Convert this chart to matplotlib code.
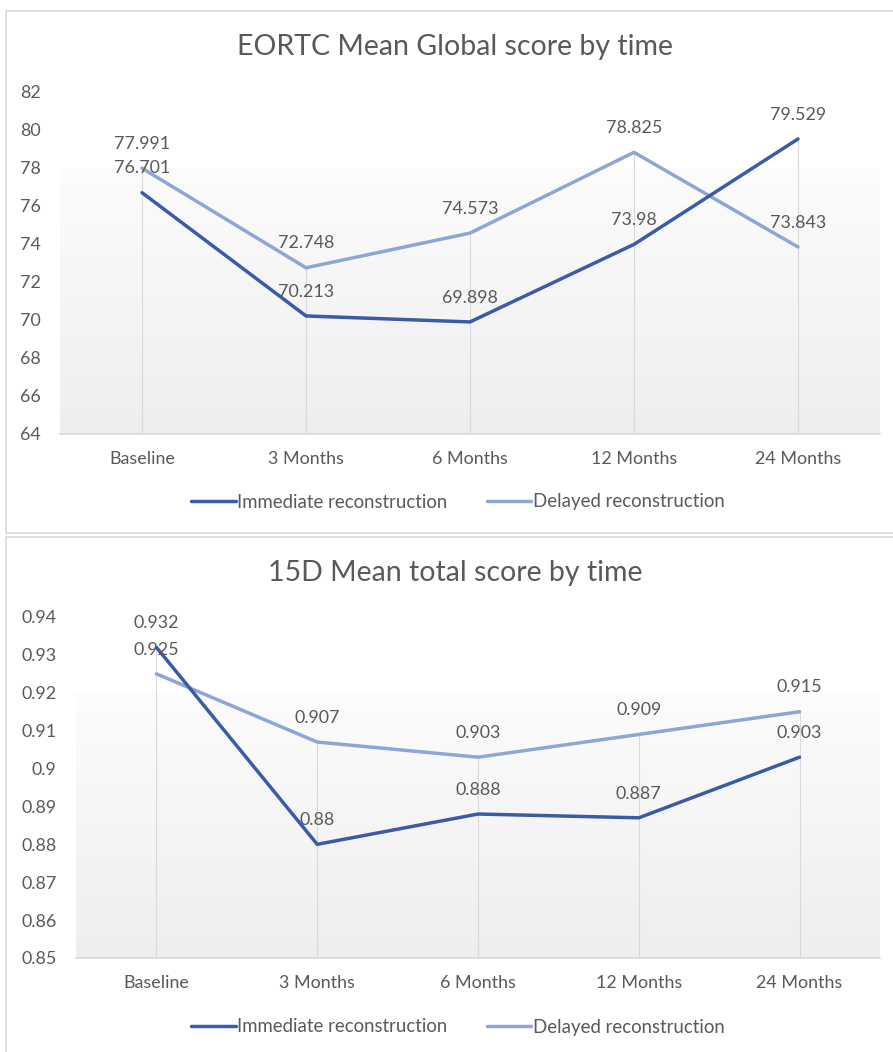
import numpy as np
import matplotlib
matplotlib.use("Agg")
import matplotlib.pyplot as plt
from matplotlib.patches import Rectangle
from matplotlib.colors import LinearSegmentedColormap

plt.rcParams['font.family'] = ['Lato', 'DejaVu Sans']

# ---- data ----
time_points = ["Baseline", "3 Months", "6 Months", "12 Months", "24 Months"]
series_names = ["Immediate reconstruction", "Delayed reconstruction"]

eortc_immediate = [76.701, 70.213, 69.898, 73.98, 79.529]
eortc_delayed = [77.991, 72.748, 74.573, 78.825, 73.843]
eortc_ticks = [64, 66, 68, 70, 72, 74, 76, 78, 80, 82]
eortc_labels = ["76.701", "70.213", "69.898", "73.98", "79.529"], ["77.991", "72.748", "74.573", "78.825", "73.843"]

d15_immediate = [0.932, 0.88, 0.888, 0.887, 0.903]
d15_delayed = [0.925, 0.907, 0.903, 0.909, 0.915]
d15_ticks = [0.85, 0.86, 0.87, 0.88, 0.89, 0.90, 0.91, 0.92, 0.93, 0.94]
d15_tick_labels = ["0.85", "0.86", "0.87", "0.88", "0.89", "0.9", "0.91", "0.92", "0.93", "0.94"]
d15_labels = ["0.932", "0.88", "0.888", "0.887", "0.903"], ["0.925", "0.907", "0.903", "0.909", "0.915"]

# ---- style ----
W, H = 893, 1052
DARK = "#3A5BA7"
LIGHT = "#8EA5D7"
TEXT = "#595959"
GRID = "#D9D9D9"
FS = 12.9
LEG_FS = 13.4

fig = plt.figure(figsize=(W / 100, H / 100), dpi=100)
fig.patch.set_facecolor("white")


def px_axes(x0, x1, y_top, y_bot):
    return fig.add_axes([x0 / W, 1 - y_bot / H, (x1 - x0) / W, (y_bot - y_top) / H])


# chart frames
for (x0, y0, x1, y1) in [(6, 11, 898, 533), (6, 537, 898, 1060)]:
    fig.add_artist(Rectangle((x0 / W, 1 - y1 / H), (x1 - x0) / W, (y1 - y0) / H,
                             transform=fig.transFigure, fill=False,
                             edgecolor=GRID, lw=1.2))

grad_cmap = LinearSegmentedColormap.from_list("plotfill", ["#EEEEEE", "#FCFCFC"])


def draw_chart(ax, title, title_y, imm, dly, labels, ticks, tick_labels, ylim,
               legend_y):
    x = np.arange(len(time_points))
    ax.set_xlim(-0.5, len(time_points) - 0.5)
    ax.set_ylim(*ylim)
    ax.set_facecolor("none")

    # gradient fill in the lower part of the plot area
    grad = np.linspace(0, 1, 256).reshape(-1, 1)
    ax.imshow(grad, cmap=grad_cmap, aspect="auto", origin="lower",
              extent=[0, 1, 0, 0.775], transform=ax.transAxes, zorder=0,
              interpolation="bilinear")

    # drop lines from the highest point of each category
    top = np.maximum(imm, dly)
    ax.vlines(x, ylim[0], top, color=GRID, lw=0.8, zorder=1)

    ax.plot(x, imm, color=DARK, lw=2.5, zorder=3, solid_capstyle="round",
            label=series_names[0])
    ax.plot(x, dly, color=LIGHT, lw=2.5, zorder=2, solid_capstyle="round",
            label=series_names[1])

    for vals, labs in zip((imm, dly), labels):
        for xi, v, lab in zip(x, vals, labs):
            ax.annotate(lab, (xi, v), xytext=(0, 17.5), textcoords="offset points",
                        ha="center", va="center", fontsize=FS, color=TEXT, zorder=4)

    ax.set_xticks(x)
    ax.set_xticklabels(time_points, fontsize=FS, color=TEXT)
    ax.set_yticks(ticks)
    ax.set_yticklabels(tick_labels, fontsize=FS, color=TEXT)
    ax.tick_params(axis="x", length=0, pad=12)
    ax.tick_params(axis="y", length=0, pad=14)
    for s in ("top", "right", "left"):
        ax.spines[s].set_visible(False)
    ax.spines["bottom"].set_color(GRID)
    ax.spines["bottom"].set_linewidth(1.2)
    ax.spines["bottom"].set_zorder(1)

    fig.text(455 / W, 1 - title_y / H, title, ha="center", va="center",
             fontsize=20.5, color=TEXT)

    fig.legend(*ax.get_legend_handles_labels(), loc="center",
               bbox_to_anchor=(458 / W, 1 - legend_y / H), ncol=2, frameon=False,
               fontsize=LEG_FS, labelcolor=TEXT, handlelength=2.4, handletextpad=0.1,
               columnspacing=2.1)


ax1 = px_axes(60, 880, 92, 434)
draw_chart(ax1, "EORTC Mean Global score by time", 47, eortc_immediate,
           eortc_delayed, eortc_labels, eortc_ticks,
           [str(t) for t in eortc_ticks], (64, 82), 502)

ax2 = px_axes(76, 880, 617, 958)
draw_chart(ax2, "15D Mean total score by time", 573, d15_immediate, d15_delayed,
           d15_labels, d15_ticks, d15_tick_labels, (0.85, 0.94), 1027)

fig.savefig("out.png", dpi=100, facecolor="white")
